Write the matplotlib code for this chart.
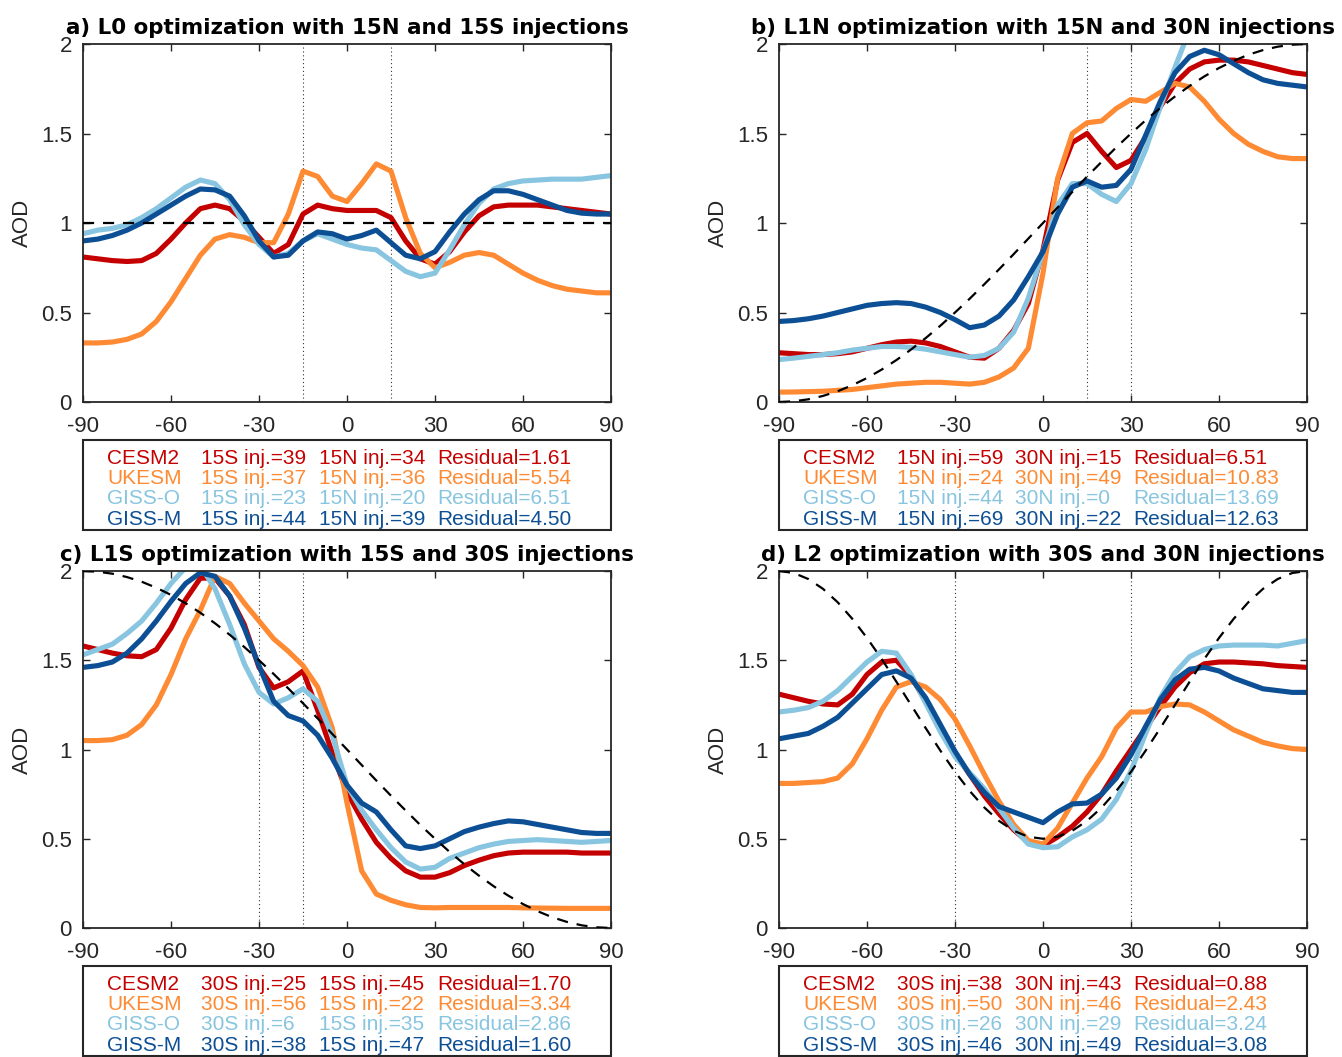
import matplotlib
matplotlib.use('Agg')
import matplotlib.pyplot as plt
from matplotlib.patches import Rectangle

plt.rcParams['font.family'] = ['Liberation Sans', 'DejaVu Sans']

# ---------------- data ----------------
lat = list(range(-90, 91, 5))
models = ['CESM2', 'UKESM', 'GISS-O', 'GISS-M']
colors = ['#c40000', '#fe8b34', '#88c5e0', '#0d4f95']
xticks = [-90, -60, -30, 0, 30, 60, 90]
yticks = [0, 0.5, 1, 1.5, 2]
yticklabels = ['0', '0.5', '1', '1.5', '2']

# panel a: L0
a_cesm = [0.81, 0.80, 0.79, 0.785, 0.79, 0.83, 0.91, 1.00, 1.08, 1.10, 1.08, 1.01, 0.92, 0.83, 0.88,
          1.05, 1.10, 1.08, 1.07, 1.07, 1.07, 1.03, 0.90, 0.80, 0.77, 0.84, 0.95, 1.04, 1.09, 1.10,
          1.10, 1.10, 1.09, 1.08, 1.07, 1.06, 1.05]
a_ukesm = [0.33, 0.33, 0.335, 0.35, 0.38, 0.45, 0.56, 0.69, 0.82, 0.91, 0.935, 0.92, 0.89, 0.89, 1.05,
           1.29, 1.26, 1.15, 1.12, 1.22, 1.33, 1.29, 1.03, 0.83, 0.75, 0.78, 0.82, 0.835, 0.82, 0.77,
           0.72, 0.68, 0.65, 0.63, 0.62, 0.61, 0.61]
a_gisso = [0.94, 0.96, 0.97, 0.99, 1.03, 1.08, 1.14, 1.20, 1.24, 1.22, 1.13, 0.99, 0.88, 0.81, 0.83,
           0.90, 0.94, 0.91, 0.88, 0.86, 0.85, 0.79, 0.73, 0.70, 0.72, 0.85, 0.99, 1.11, 1.19, 1.22,
           1.235, 1.24, 1.245, 1.245, 1.245, 1.255, 1.265]
a_gissm = [0.90, 0.91, 0.93, 0.96, 1.00, 1.05, 1.10, 1.15, 1.19, 1.185, 1.15, 1.04, 0.90, 0.81, 0.82,
           0.90, 0.95, 0.94, 0.91, 0.93, 0.96, 0.89, 0.82, 0.80, 0.84, 0.95, 1.05, 1.13, 1.18, 1.18,
           1.16, 1.13, 1.10, 1.07, 1.055, 1.05, 1.05]
a_target_lat = [-90, 90]
a_target = [1.0, 1.0]

# panel b: L1N
b_cesm = [0.275, 0.27, 0.265, 0.265, 0.27, 0.28, 0.30, 0.32, 0.335, 0.34, 0.33, 0.31, 0.28, 0.25, 0.245,
          0.30, 0.40, 0.55, 0.85, 1.24, 1.45, 1.50, 1.40, 1.31, 1.35, 1.48, 1.65, 1.78, 1.86, 1.90,
          1.91, 1.91, 1.90, 1.88, 1.86, 1.84, 1.83]
b_ukesm = [0.055, 0.056, 0.058, 0.06, 0.065, 0.07, 0.08, 0.09, 0.10, 0.105, 0.11, 0.11, 0.105, 0.10, 0.11,
           0.14, 0.19, 0.30, 0.72, 1.25, 1.50, 1.56, 1.57, 1.64, 1.69, 1.68, 1.73, 1.78, 1.76, 1.68,
           1.58, 1.50, 1.44, 1.40, 1.37, 1.36, 1.36]
b_gisso = [0.237, 0.245, 0.255, 0.265, 0.275, 0.29, 0.30, 0.31, 0.31, 0.305, 0.295, 0.28, 0.265, 0.25, 0.26,
           0.30, 0.39, 0.58, 0.84, 1.10, 1.22, 1.22, 1.16, 1.12, 1.22, 1.41, 1.65, 1.87, 2.08, 2.2,
           2.25, 2.25, 2.25, 2.25, 2.25, 2.25, 2.25]
b_gissm = [0.45, 0.455, 0.465, 0.48, 0.50, 0.52, 0.54, 0.55, 0.555, 0.55, 0.53, 0.50, 0.46, 0.415, 0.43,
           0.48, 0.57, 0.70, 0.84, 1.05, 1.20, 1.235, 1.20, 1.21, 1.30, 1.49, 1.68, 1.84, 1.93, 1.965,
           1.94, 1.89, 1.84, 1.80, 1.78, 1.77, 1.76]
b_target = [0.0, 0.004, 0.015, 0.034, 0.060, 0.094, 0.134, 0.181, 0.234, 0.293, 0.357, 0.426, 0.5, 0.577,
            0.658, 0.741, 0.826, 0.913, 1.0, 1.087, 1.174, 1.259, 1.342, 1.423, 1.5, 1.574, 1.643, 1.707,
            1.766, 1.819, 1.866, 1.906, 1.940, 1.966, 1.985, 1.996, 2.0]

# panel c: L1S
c_cesm = [1.58, 1.56, 1.54, 1.525, 1.52, 1.56, 1.68, 1.84, 1.96, 1.96, 1.86, 1.70, 1.46, 1.345, 1.38,
          1.44, 1.22, 0.98, 0.76, 0.61, 0.48, 0.39, 0.32, 0.285, 0.285, 0.31, 0.35, 0.38, 0.405, 0.42,
          0.425, 0.425, 0.425, 0.425, 0.42, 0.42, 0.42]
c_ukesm = [1.05, 1.05, 1.055, 1.08, 1.14, 1.25, 1.42, 1.62, 1.78, 1.97, 1.93, 1.82, 1.72, 1.62, 1.55,
           1.47, 1.35, 1.12, 0.70, 0.32, 0.19, 0.155, 0.13, 0.115, 0.113, 0.115, 0.115, 0.115, 0.115, 0.115,
           0.113, 0.112, 0.111, 0.11, 0.11, 0.11, 0.11]
c_gisso = [1.53, 1.56, 1.59, 1.65, 1.72, 1.82, 1.93, 2.02, 2.03, 1.90, 1.70, 1.48, 1.32, 1.255, 1.29,
           1.34, 1.27, 1.08, 0.80, 0.66, 0.55, 0.45, 0.37, 0.33, 0.34, 0.39, 0.42, 0.45, 0.47, 0.485,
           0.49, 0.495, 0.49, 0.485, 0.48, 0.485, 0.49]
c_gissm = [1.46, 1.47, 1.49, 1.54, 1.62, 1.72, 1.83, 1.93, 1.99, 1.97, 1.86, 1.68, 1.47, 1.27, 1.19,
           1.16, 1.08, 0.95, 0.80, 0.70, 0.65, 0.55, 0.46, 0.445, 0.46, 0.50, 0.54, 0.565, 0.585, 0.60,
           0.595, 0.58, 0.565, 0.55, 0.535, 0.53, 0.53]
c_target = [2.0, 1.996, 1.985, 1.966, 1.940, 1.906, 1.866, 1.819, 1.766, 1.707, 1.643, 1.574, 1.5, 1.423,
            1.342, 1.259, 1.174, 1.087, 1.0, 0.913, 0.826, 0.741, 0.658, 0.577, 0.5, 0.426, 0.357, 0.293,
            0.234, 0.181, 0.134, 0.094, 0.060, 0.034, 0.015, 0.004, 0.0]

# panel d: L2
d_cesm = [1.31, 1.29, 1.27, 1.255, 1.25, 1.31, 1.42, 1.49, 1.50, 1.41, 1.27, 1.12, 0.98, 0.86, 0.74,
          0.64, 0.55, 0.48, 0.46, 0.51, 0.57, 0.65, 0.75, 0.88, 1.00, 1.12, 1.24, 1.35, 1.43, 1.48,
          1.49, 1.49, 1.485, 1.48, 1.47, 1.465, 1.46]
d_ukesm = [0.81, 0.81, 0.815, 0.82, 0.84, 0.92, 1.06, 1.22, 1.35, 1.38, 1.35, 1.28, 1.17, 1.02, 0.86,
           0.71, 0.58, 0.49, 0.47, 0.56, 0.70, 0.84, 0.96, 1.12, 1.21, 1.21, 1.24, 1.255, 1.25, 1.21,
           1.16, 1.11, 1.075, 1.04, 1.02, 1.005, 1.0]
d_gisso = [1.21, 1.22, 1.235, 1.27, 1.33, 1.41, 1.49, 1.55, 1.54, 1.42, 1.26, 1.10, 0.96, 0.87, 0.78,
           0.67, 0.56, 0.47, 0.45, 0.455, 0.51, 0.55, 0.61, 0.72, 0.88, 1.09, 1.29, 1.43, 1.52, 1.56,
           1.58, 1.585, 1.585, 1.585, 1.58, 1.595, 1.61]
d_gissm = [1.06, 1.075, 1.09, 1.13, 1.18, 1.26, 1.34, 1.42, 1.44, 1.40, 1.29, 1.14, 0.99, 0.86, 0.76,
           0.68, 0.65, 0.62, 0.59, 0.65, 0.695, 0.70, 0.75, 0.84, 0.97, 1.13, 1.28, 1.39, 1.45, 1.46,
           1.44, 1.40, 1.37, 1.34, 1.33, 1.32, 1.32]
d_target = [2.0, 1.989, 1.955, 1.900, 1.825, 1.732, 1.625, 1.507, 1.380, 1.25, 1.120, 0.994, 0.875, 0.768,
            0.675, 0.600, 0.545, 0.511, 0.5, 0.511, 0.545, 0.600, 0.675, 0.768, 0.875, 0.994, 1.120, 1.25,
            1.380, 1.507, 1.625, 1.732, 1.825, 1.900, 1.955, 1.989, 2.0]

# injection latitudes (dotted lines)
a_inj = [-15, 15]
b_inj = [15, 30]
c_inj = [-30, -15]
d_inj = [-30, 30]

# legend table values
a_names = ['15S', '15N']
a_inj1 = [39, 37, 23, 44]
a_inj2 = [34, 36, 20, 39]
a_resid = [1.61, 5.54, 6.51, 4.50]
b_names = ['15N', '30N']
b_inj1 = [59, 24, 44, 69]
b_inj2 = [15, 49, 0, 22]
b_resid = [6.51, 10.83, 13.69, 12.63]
c_names = ['30S', '15S']
c_inj1 = [25, 56, 6, 38]
c_inj2 = [45, 22, 35, 47]
c_resid = [1.70, 3.34, 2.86, 1.60]
d_names = ['30S', '30N']
d_inj1 = [38, 50, 26, 46]
d_inj2 = [43, 46, 29, 49]
d_resid = [0.88, 2.43, 3.24, 3.08]

titles = ['a) L0 optimization with 15N and 15S injections',
          'b) L1N optimization with 15N and 30N injections',
          'c) L1S optimization with 15S and 30S injections',
          'd) L2 optimization with 30S and 30N injections']

# ---------------- figure ----------------
W, H = 1342, 1057
fig = plt.figure(figsize=(W / 100, H / 100), dpi=100)
fig.patch.set_facecolor('white')


def fx(px):
    return px / W


def fy(py):
    return 1 - py / H


panels = [
    dict(box=(83, 611, 44, 402), series=[a_cesm, a_ukesm, a_gisso, a_gissm], tlat=a_target_lat, target=a_target,
         inj=a_inj, names=a_names, i1=a_inj1, i2=a_inj2, res=a_resid, title=titles[0]),
    dict(box=(779, 1307, 44, 402), series=[b_cesm, b_ukesm, b_gisso, b_gissm], tlat=lat, target=b_target,
         inj=b_inj, names=b_names, i1=b_inj1, i2=b_inj2, res=b_resid, title=titles[1]),
    dict(box=(83, 611, 571, 928), series=[c_cesm, c_ukesm, c_gisso, c_gissm], tlat=lat, target=c_target,
         inj=c_inj, names=c_names, i1=c_inj1, i2=c_inj2, res=c_resid, title=titles[2]),
    dict(box=(779, 1307, 571, 928), series=[d_cesm, d_ukesm, d_gisso, d_gissm], tlat=lat, target=d_target,
         inj=d_inj, names=d_names, i1=d_inj1, i2=d_inj2, res=d_resid, title=titles[3]),
]

axcol = '#262626'
for p in panels:
    l, r, t, b = p['box']
    ax = fig.add_axes([fx(l), fy(b), (r - l) / W, (b - t) / H])
    for v in p['inj']:
        ax.axvline(v, color='#333333', lw=0.8, ls=(0, (1, 2.5)), zorder=1)
    for s, c in zip(p['series'], colors):
        ax.plot(lat, s, color=c, lw=3.7, solid_joinstyle='round', solid_capstyle='butt', zorder=2)
    ax.plot(p['tlat'], p['target'], color='black', lw=1.6, ls=(0, (5, 4)), zorder=3)
    ax.set_xlim(-90, 90)
    ax.set_ylim(0, 2)
    ax.set_xticks(xticks)
    ax.set_xticklabels([str(x) for x in xticks])
    ax.set_yticks(yticks)
    ax.set_yticklabels(yticklabels)
    ax.tick_params(direction='in', length=5, width=1, top=True, right=True, labelsize=16,
                   colors=axcol, labelcolor='#262626')
    ax.tick_params(axis='x', pad=10)
    ax.tick_params(axis='y', pad=8)
    for sp in ax.spines.values():
        sp.set_color(axcol)
        sp.set_linewidth(1.3)
    ax.set_ylabel('AOD', fontsize=16, color='#262626')
    ax.yaxis.set_label_coords(-0.095, 0.5)
    ax.text(0.5, 1.027, p['title'], transform=ax.transAxes, ha='center', va='baseline',
            fontsize=15.4, fontweight='bold', color='black', family=['DejaVu Sans'])

    # legend box
    top = b + 38
    fig.patches.append(Rectangle((fx(l), fy(top + 90)), (r - l) / W, 90 / H, transform=fig.transFigure,
                                 fill=False, edgecolor=axcol, lw=1.5, zorder=5))
    for k in range(4):
        yrow = top + 18 + 20.4 * k
        col = colors[k]
        fig.text(fx(l + 24), fy(yrow), models[k], color=col, fontsize=15, ha='left', va='center')
        fig.text(fx(l + 118), fy(yrow), '%s inj.=%d' % (p['names'][0], p['i1'][k]), color=col,
                 fontsize=15, ha='left', va='center')
        fig.text(fx(l + 236), fy(yrow), '%s inj.=%d' % (p['names'][1], p['i2'][k]), color=col,
                 fontsize=15, ha='left', va='center')
        fig.text(fx(l + 354), fy(yrow), 'Residual=%.2f' % p['res'][k], color=col,
                 fontsize=15, ha='left', va='center')

fig.savefig('out.png', dpi=100, facecolor='white')
